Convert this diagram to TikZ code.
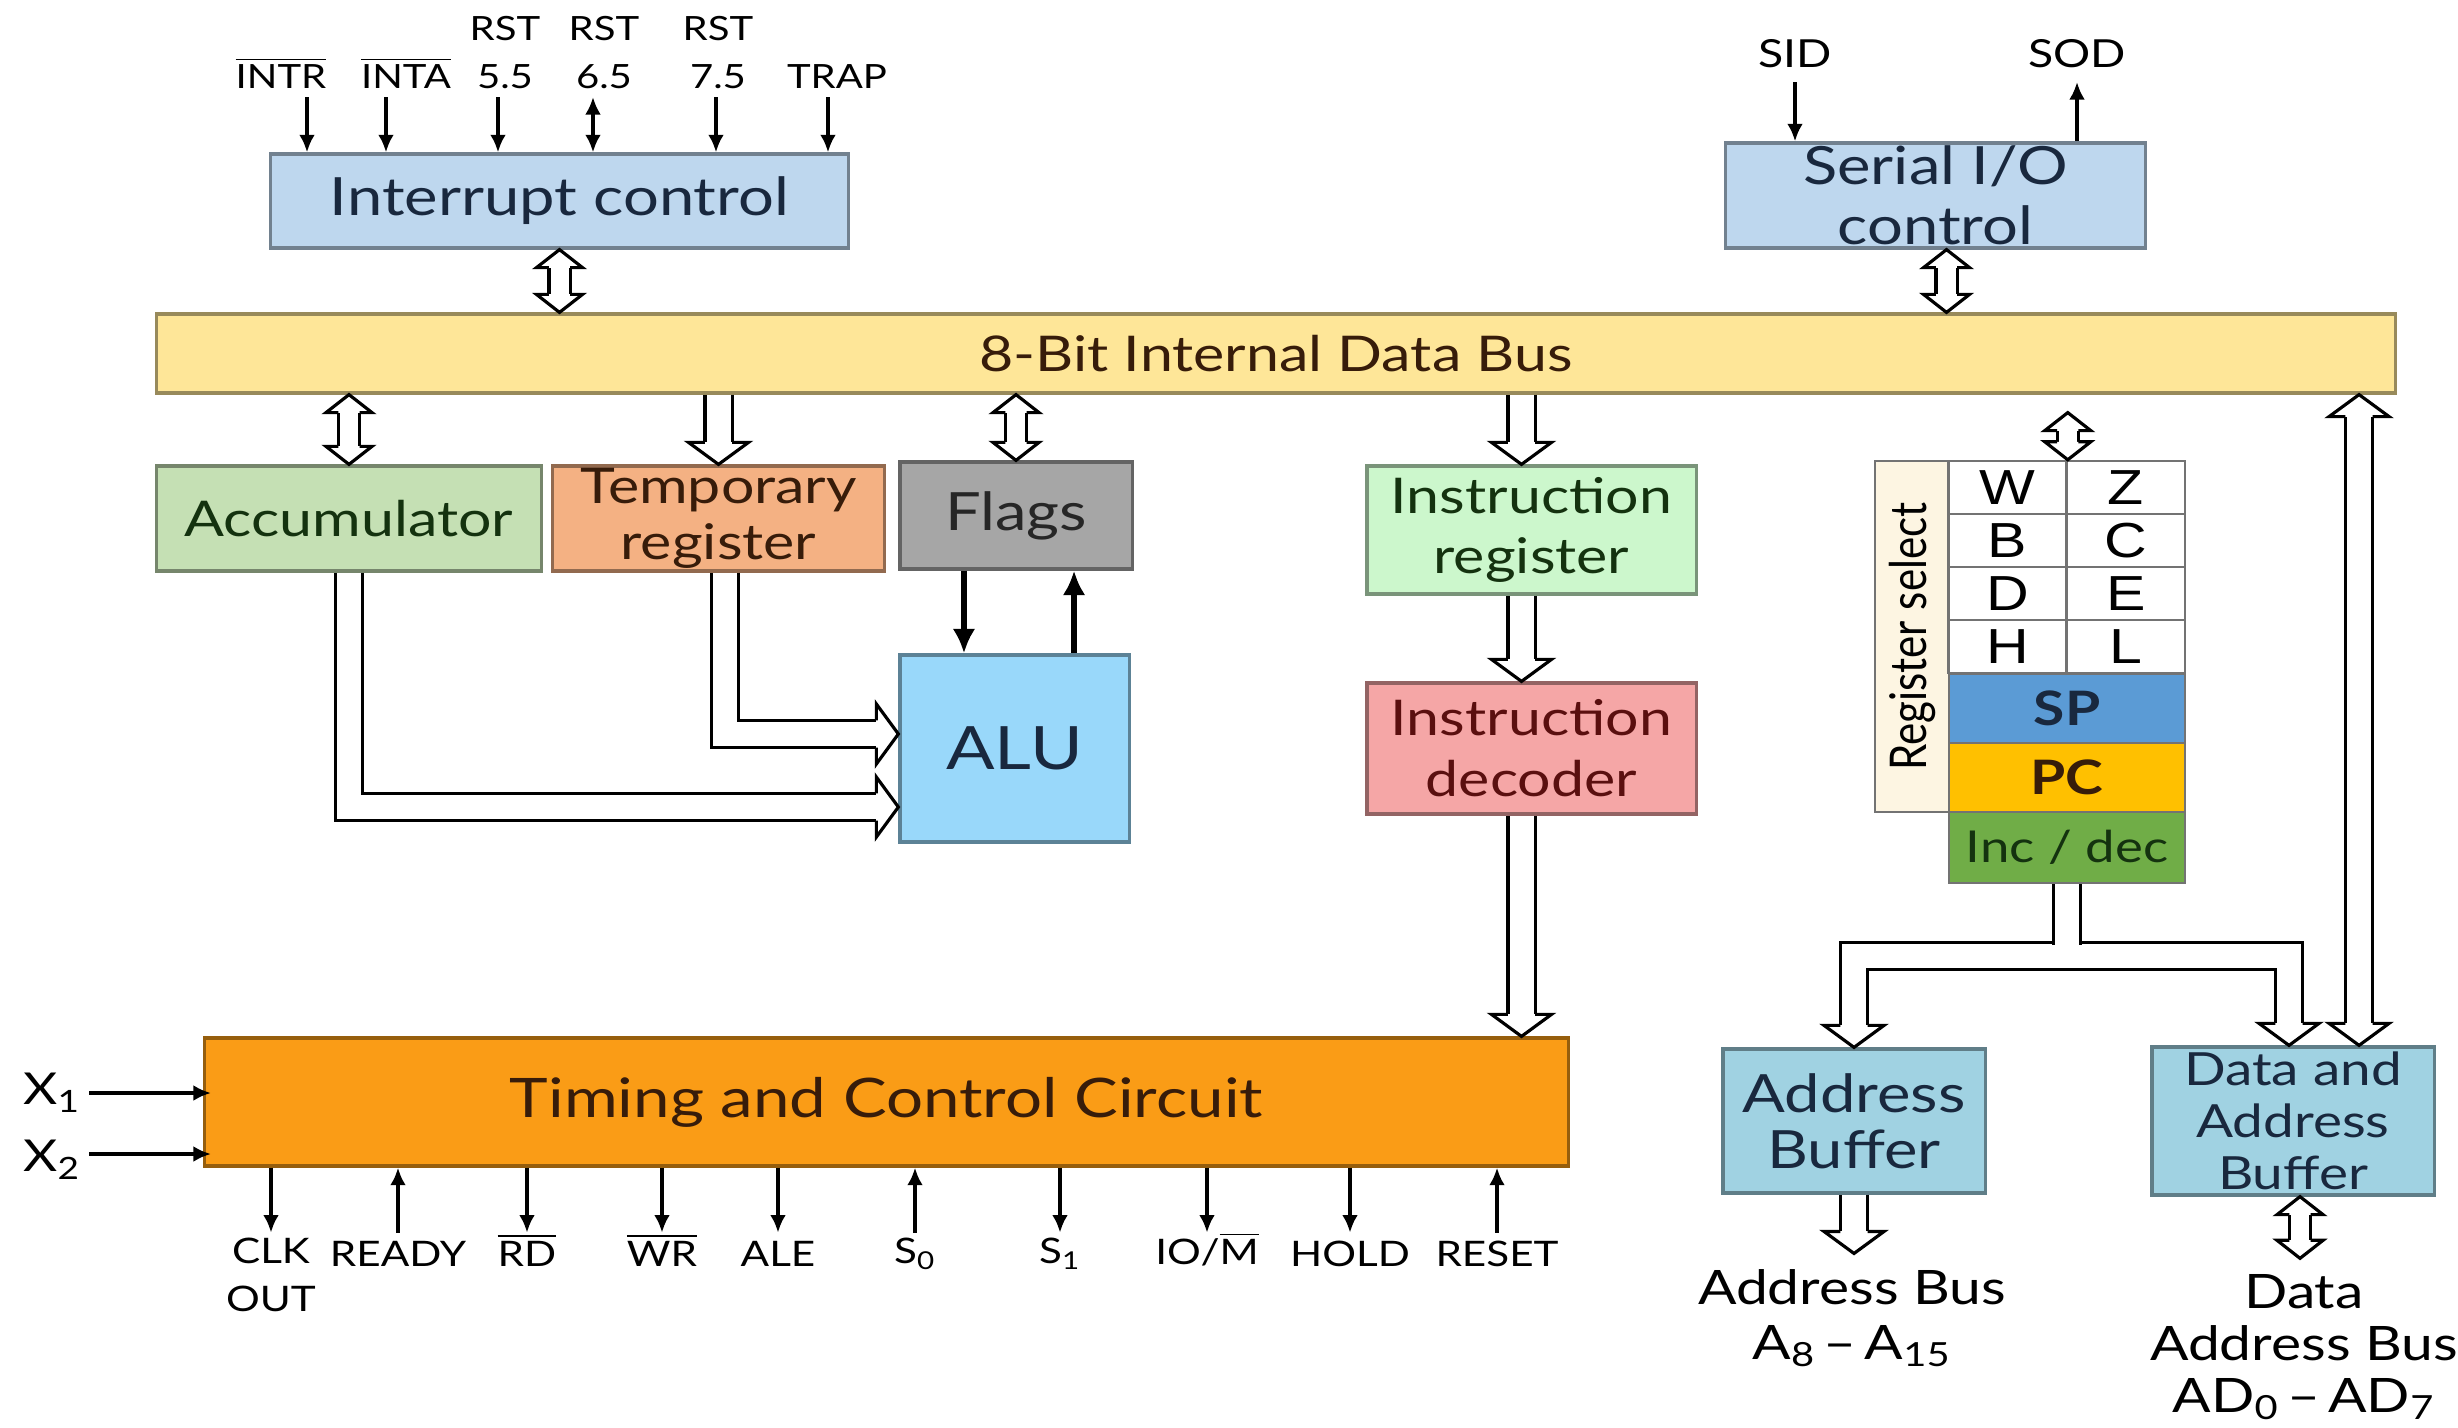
\documentclass[tikz,border=0pt]{standalone}
\usepackage{fontspec}
\setmainfont{Lato}[FakeStretch=1.2]
\newfontfamily\regfont{Liberation Sans}[FakeStretch=1.2]
\newfontfamily\rotfont{Lato}[FakeStretch=0.83]
\usetikzlibrary{arrows.meta,positioning}

%% colours
\definecolor{intblue}{RGB}{190,215,238}
\definecolor{busyellow}{RGB}{254,230,152}
\definecolor{accgreen}{RGB}{197,224,180}
\definecolor{tmporange}{RGB}{244,177,131}
\definecolor{flaggray}{RGB}{166,166,166}
\definecolor{alublue}{RGB}{153,216,250}
\definecolor{irgreen}{RGB}{204,247,204}
\definecolor{idpink}{RGB}{245,166,166}
\definecolor{tccorange}{RGB}{250,156,22}
\definecolor{bufblue}{RGB}{160,210,226}
\definecolor{selcream}{RGB}{253,245,226}
\definecolor{spblue}{RGB}{91,155,213}
\definecolor{pcgold}{RGB}{255,192,0}
\definecolor{incgreen}{RGB}{112,173,71}
\definecolor{inkblue}{RGB}{25,40,62}
\definecolor{inkgreen}{RGB}{20,50,15}
\definecolor{inkbrown}{RGB}{55,28,10}
\definecolor{inkred}{RGB}{90,15,15}

%% hollow heads for the wide bus arrows
\pgfdeclarearrow{
  name = HollowWide,
  setup code = {
    \pgfarrowssettipend{0.22cm}
    \pgfarrowssetlineend{0pt}
    \pgfarrowshullpoint{0pt}{0.3cm}
    \pgfarrowshullpoint{0.22cm}{0pt}
    \pgfarrowshullpoint{0pt}{-0.3cm}
  },
  drawing code = {
    \pgfsetlinewidth{0.9pt}
    \pgfsetfillcolor{white}
    \pgfpathmoveto{\pgfpoint{0pt}{0.12cm+0.45pt}}
    \pgfpathlineto{\pgfpoint{0pt}{0.3cm}}
    \pgfpathlineto{\pgfpoint{0.22cm}{0pt}}
    \pgfpathlineto{\pgfpoint{0pt}{-0.3cm}}
    \pgfpathlineto{\pgfpoint{0pt}{-0.12cm-0.45pt}}
    \pgfusepathqfillstroke
  }
}
\pgfdeclarearrow{
  name = HollowSlim,
  setup code = {
    \pgfarrowssettipend{0.18cm}
    \pgfarrowssetlineend{0pt}
    \pgfarrowshullpoint{0pt}{0.23cm}
    \pgfarrowshullpoint{0.18cm}{0pt}
    \pgfarrowshullpoint{0pt}{-0.23cm}
  },
  drawing code = {
    \pgfsetlinewidth{0.9pt}
    \pgfsetfillcolor{white}
    \pgfpathmoveto{\pgfpoint{0pt}{0.09cm+0.45pt}}
    \pgfpathlineto{\pgfpoint{0pt}{0.23cm}}
    \pgfpathlineto{\pgfpoint{0.18cm}{0pt}}
    \pgfpathlineto{\pgfpoint{0pt}{-0.23cm}}
    \pgfpathlineto{\pgfpoint{0pt}{-0.09cm-0.45pt}}
    \pgfusepathqfillstroke
  }
}

\tikzset{
  block/.style={draw=#1!60!black, fill=#1, line width=0.9pt, inner sep=0pt, align=center},
  cell/.style={draw=black!55, fill=white, line width=0.7pt, inner sep=0pt,
    minimum width=1.18cm, minimum height=0.53cm, font=\regfont\fontsize{14}{16}\selectfont},
  pin/.style={inner sep=0pt, align=center, anchor=south, font=\fontsize{10}{13.6}\selectfont},
  toppin/.style={pin, font=\fontsize{9.5}{13.6}\selectfont},
  sig/.style={line width=1pt, >={Latex[length=5pt,width=4.5pt]}},
  fat/.style={line width=1.6pt, >={Latex[length=7pt,width=6.5pt]}},
  dataflow/.style={double distance=0.24cm, line width=0.9pt, -HollowWide},
  dataflowboth/.style={double distance=0.18cm, line width=0.9pt, HollowSlim-HollowSlim},
}

\begin{document}
\begin{tikzpicture}[x=0.01cm,y=-0.01cm]
  \useasboundingbox (0,0) rectangle (2458,1427);
  %% Interrupt control and its pins
  \node[block=intblue, text=inkblue, minimum width=5.77cm, minimum height=0.94cm,
    font=\fontsize{15}{18}\selectfont] (intc) at (559.5,201) {Interrupt control};
  \node[toppin] (intr) at (281,89) {$\overline{\mbox{INTR}}$};
  \node[toppin] (inta) at (406,89) {$\overline{\mbox{INTA}}$};
  \node[toppin] (rstf) at (505,89) {RST\\5.5};
  \node[toppin] (rstsix) at (604,89) {RST\\6.5};
  \node[toppin] (rsts) at (718,89) {RST\\7.5};
  \node[toppin] (trap) at (837,89) {TRAP};
  \foreach \p/\s in {intr/0.26, inta/-0.2, rstf/-0.07, rsts/-0.02, trap/-0.09}
    \draw[sig,->] ([xshift=\s cm,yshift=-0.08cm]\p.south) -- ([xshift=\s cm]\p.south |- intc.north);
  \draw[sig,<->] ([xshift=-0.11cm,yshift=-0.08cm]rstsix.south) -- ([xshift=-0.11cm]rstsix.south |- intc.north);
  %% Serial I/O
  \node[block=intblue, text=inkblue, minimum width=4.19cm, minimum height=1.05cm,
    font=\fontsize{15}{17}\selectfont] (sio) at (1935.5,195.5) {Serial I/O\\control};
  \node[pin, font=\fontsize{11}{13}\selectfont] (sid) at (1795,69) {SID};
  \node[pin, font=\fontsize{11}{13}\selectfont] (sod) at (2077,69) {SOD};
  \draw[sig,->] ([yshift=-0.13cm]sid.south) -- (sid.south |- sio.north);
  \draw[sig,<-] ([yshift=-0.13cm]sod.south) -- (sod.south |- sio.north);
  %% Internal data bus
  \node[block=busyellow, text=inkbrown, minimum width=22.38cm, minimum height=0.79cm,
    font=\fontsize{14}{16}\selectfont] (bus) at (1276,353.5) {8-Bit Internal Data Bus};
  \draw[dataflowboth] (intc.south) -- (intc.south |- bus.north);
  \draw[dataflowboth] ([xshift=0.11cm]sio.south) -- ([xshift=0.11cm]sio.south |- bus.north);
  %% ALU side
  \node[block=accgreen, text=inkgreen, minimum width=3.84cm, minimum height=1.05cm,
    font=\fontsize{14}{16}\selectfont] (acc) at (349,518.5) {Accumulator};
  \node[block=tmporange, text=inkbrown, minimum width=3.31cm, minimum height=1.05cm,
    font=\fontsize{14}{16}\selectfont] (tmp) at (718.5,518.5) {Temporary\\register};
  \node[block=flaggray, text=black!85, minimum width=2.32cm, minimum height=1.07cm,
    font=\fontsize{15}{17}\selectfont] (flags) at (1016,515.5) {Flags};
  \node[block=alublue, text=inkblue, minimum width=2.29cm, minimum height=1.87cm,
    font=\fontsize{17}{19}\selectfont] (alu) at (1014.5,748.5) {ALU};
  \draw[dataflowboth] (acc.north |- bus.south) -- (acc.north);
  \draw[dataflow] (tmp.north |- bus.south) -- (tmp.north);
  \draw[dataflowboth] (flags.north |- bus.south) -- (flags.north);
  \draw[dataflow] ([xshift=0.065cm]tmp.south) |- ([yshift=0.145cm]alu.west);
  \draw[dataflow] (acc.south) |- ([yshift=-0.585cm]alu.west);
  \draw[fat,->] ([xshift=-0.52cm]flags.south) -- ([xshift=-0.52cm]flags.south |- alu.north);
  \draw[fat,<-] ([xshift=0.58cm]flags.south) -- ([xshift=0.58cm]flags.south |- alu.north);
  %% Instruction path
  \node[block=irgreen, text=inkgreen, minimum width=3.29cm, minimum height=1.28cm,
    font=\fontsize{14}{17}\selectfont] (ir) at (1531.5,530) {Instruction\\register};
  \node[block=idpink, text=inkred, minimum width=3.29cm, minimum height=1.31cm,
    font=\fontsize{14}{17.3}\selectfont] (idec) at (1531.5,748.5) {Instruction\\decoder};
  \draw[dataflow] ([xshift=-0.1cm]ir.north |- bus.south) -- ([xshift=-0.1cm]ir.north);
  \draw[dataflow] ([xshift=-0.1cm]ir.south) -- ([xshift=-0.1cm]idec.north);
  %% Timing and control
  \node[block=tccorange, text=inkbrown, minimum width=13.63cm, minimum height=1.28cm,
    font=\fontsize{15.5}{18}\selectfont] (tcc) at (886.5,1102) {Timing and Control Circuit};
  \draw[dataflow] ([xshift=-0.1cm]idec.south) -- ([xshift=-0.1cm]idec.south |- tcc.north);
  \node[font=\fontsize{12.5}{14}\selectfont, inner sep=0pt] (xone) at (52,1093) {X\textsubscript{1}};
  \node[font=\fontsize{12.5}{14}\selectfont, inner sep=0pt] (xtwo) at (52,1160) {X\textsubscript{2}};
  \draw[sig,->] ([xshift=0.08cm]xone.east) -- ([xshift=0.08cm]xone.east -| tcc.west);
  \draw[sig,->] ([xshift=0.08cm,yshift=0.06cm]xtwo.east) -- ([xshift=0.08cm,yshift=0.06cm]xtwo.east -| tcc.west);
  \node[pin] (clk) at (271,1312) {CLK\\OUT};
  \node[pin] (ready) at (398,1267) {READY};
  \node[pin] (rd) at (527,1267) {$\overline{\mbox{RD}}$};
  \node[pin] (wr) at (662,1267) {$\overline{\mbox{WR}}$};
  \node[pin] (ale) at (778,1267) {ALE};
  \node[pin] (szero) at (915,1270) {S\textsubscript{0}};
  \node[pin] (sone) at (1060,1270) {S\textsubscript{1}};
  \node[pin] (iom) at (1207,1267) {IO/$\overline{\mbox{M}}$};
  \node[pin] (hold) at (1350,1267) {HOLD};
  \node[pin] (reset) at (1497,1267) {RESET};
  \foreach \p in {clk,rd,wr,ale,sone,iom,hold}
    \draw[sig,->] (tcc.south -| \p) -- ++(0,65);
  \foreach \p in {ready,szero,reset}
    \draw[sig,<-] (tcc.south -| \p) -- ++(0,65);
  %% Register array
  \node[draw=black!55, fill=selcream, line width=0.7pt, rotate=90, inner sep=0pt,
    minimum width=3.51cm, minimum height=0.74cm, font=\rotfont\fontsize{14.4}{16}\selectfont]
    (rsel) at (1912,636.5) {Register select};
  \foreach \l/\r [count=\i] in {W/Z,B/C,D/E,H/L}
  {
    \node[cell] (reg\l) at (2007.5,{461+53*(\i-0.5)}) {\l};
    \node[cell] (reg\r) at (2126,{461+53*(\i-0.5)}) {\r};
  }
  \node[cell, fill=spblue, text=inkblue, minimum width=2.36cm, minimum height=0.69cm,
    font=\bfseries\fontsize{13.5}{15}\selectfont] (sp) at (2067,708.5) {SP};
  \node[cell, fill=pcgold, text=inkbrown, minimum width=2.36cm, minimum height=0.69cm,
    font=\bfseries\fontsize{13.5}{15}\selectfont] (pc) at (2067,777.5) {PC};
  \node[cell, fill=incgreen, text=inkgreen, minimum width=2.36cm, minimum height=0.71cm,
    font=\fontsize{12.5}{15}\selectfont] (incdec) at (2067,847.5) {Inc / dec};
  \draw[dataflowboth] ([yshift=-0.18cm]bus.south -| regW.north east) -- (regW.north east);
  %% Buffers
  \node[block=bufblue, text=inkblue, minimum width=2.62cm, minimum height=1.44cm,
    font=\fontsize{15}{16}\selectfont] (abuf) at (1854,1121) {Address\\Buffer};
  \node[block=bufblue, text=inkblue, minimum width=2.82cm, minimum height=1.48cm,
    font=\fontsize{13}{14.8}\selectfont] (dabuf) at (2293,1121) {Data and\\Address\\Buffer};
  \coordinate (split) at (2067,956);
  \draw[dataflow, HollowWide-HollowWide] (abuf.north) |- (split) -| ([xshift=-0.04cm]dabuf.north);
  \draw[dataflow, -] (incdec.south) -- ([yshift=0.11cm]split);
  \draw[dataflow, HollowWide-HollowWide] ([xshift=0.66cm]dabuf.north |- bus.south) -- ([xshift=0.66cm]dabuf.north);
  \node[align=center, inner sep=0pt, font=\fontsize{13.5}{15.6}\selectfont]
    (abus) at (1852,1318) {Address Bus\\A\textsubscript{8}\,--\,A\textsubscript{15}};
  \node[align=center, inner sep=0pt, font=\fontsize{13.5}{14.8}\selectfont]
    (dbus) at (2304,1347) {Data\\Address Bus\\AD\textsubscript{0}\,--\,AD\textsubscript{7}};
  \draw[dataflow] (abuf.south) -- ([yshift=0.15cm]abuf.south |- abus.north);
  \draw[dataflowboth] ([xshift=0.07cm]dabuf.south) -- ([xshift=0.07cm,yshift=0.15cm]dabuf.south |- dbus.north);
\end{tikzpicture}
\end{document}
